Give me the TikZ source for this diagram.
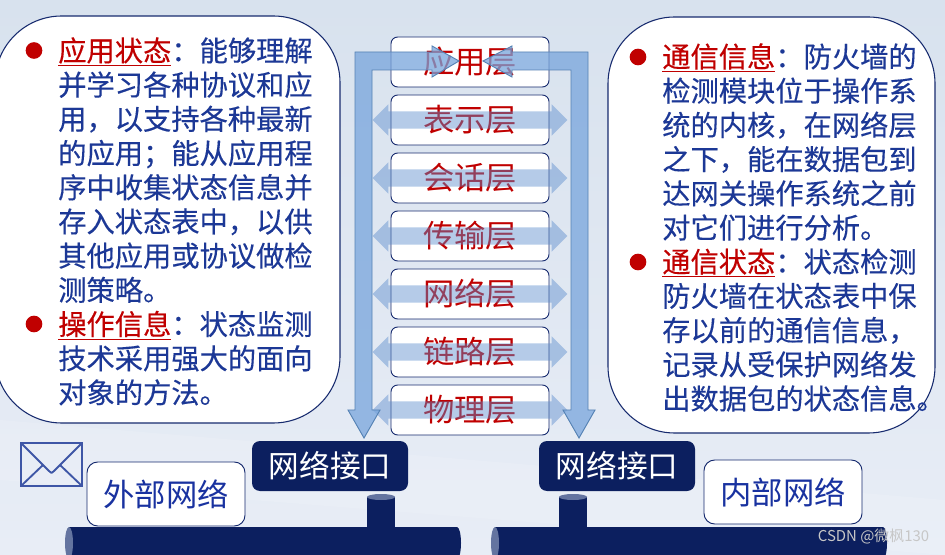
\documentclass[tikz,border=0pt]{standalone}
\usepackage{fontspec}
\setmainfont{Noto Sans CJK SC}
\newfontfamily\heavycjk[FakeBold=0.25]{Noto Sans CJK SC}
\usetikzlibrary{shapes.arrows}
\definecolor{textblue}{RGB}{28,56,150}
\definecolor{headred}{RGB}{192,0,0}
\definecolor{navy}{RGB}{12,31,95}
\definecolor{edgeblue}{RGB}{22,42,110}
\definecolor{pipeend}{RGB}{100,116,160}
\definecolor{bandblue}{RGB}{91,140,205}
\definecolor{columnblue}{RGB}{120,165,220}
\definecolor{columnedge}{RGB}{85,130,180}
\definecolor{skytop}{RGB}{216,226,238}
\definecolor{skybottom}{RGB}{232,237,246}
\newcommand{\headword}[1]{{\color{headred}\underline{#1}}}
\tikzset{
  bubble/.style={draw=edgeblue, fill=white, line width=0.8pt, rounded corners=50pt, inner sep=0pt},
  bubbletext/.style={anchor=north west, inner sep=0pt, align=left, text=textblue, font=\heavycjk\fontsize{21.2}{25.65}\selectfont},
  bulletdot/.style={circle, fill=headred, inner sep=0pt, minimum size=12.5pt},
  layerbox/.style={draw=edgeblue, fill=white, line width=0.7pt, rounded corners=5pt, minimum width=118.5pt, minimum height=37.5pt, inner sep=0pt, text=headred, font=\fontsize{23.5}{28}\selectfont},
  swaparrow/.style={double arrow, fill=bandblue, fill opacity=0.45, minimum width=23pt, minimum height=146pt, double arrow head extend=5.25pt, inner sep=6.25pt, double arrow tip angle=90},
  bigarrow/.style={draw=columnedge, fill=columnblue, fill opacity=0.75, line width=0.7pt},
  portbox/.style={fill=navy, rounded corners=6pt, minimum width=117pt, minimum height=37.5pt, inner sep=0pt, text=white, font=\fontsize{23}{28}\selectfont},
  netbox/.style={draw=edgeblue, fill=white, line width=0.7pt, rounded corners=8pt, minimum width=118.5pt, minimum height=48pt, inner sep=0pt, text=textblue!90!blue, font=\fontsize{23.5}{28}\selectfont},
  pipe/.style={fill=navy},
  pipeface/.style={fill=pipeend}
}
\begin{document}
\begin{tikzpicture}[x=0.75pt, y=-0.75pt]
\useasboundingbox (0,0) rectangle (945,555);
\clip (0,0) rectangle (945,555);
\shade[top color=skytop, bottom color=skybottom] (0,0) rectangle (945,555);
\fill[white, opacity=0.12] (0,420) -- (945,500) -- (945,555) -- (0,480) -- cycle;
\node[bubble, minimum width=258.75pt, minimum height=305.25pt] (leftbubble) at (167.5,219.5) {};
\node[bubble, minimum width=245.25pt, minimum height=312pt] (rightbubble) at (771.5,225) {};
\node[bulletdot] (leftdota) at (34,50.5) {};
\node[bulletdot] (leftdotb) at (34,324) {};
\node[bulletdot] (rightdota) at (638,57) {};
\node[bulletdot] (rightdotb) at (638,262) {};
\node[bubbletext] (lefttext) at (58,37) {\headword{应用状态}：能够理解\\并学习各种协议和应\\用，以支持各种最新\\的应用；能从应用程\\序中收集状态信息并\\存入状态表中，以供\\其他应用或协议做检\\测策略。\\\headword{操作信息}：状态监测\\技术采用强大的面向\\对象的方法。};
\node[bubbletext] (righttext) at (662,43) {\headword{通信信息}：防火墙的\\检测模块位于操作系\\统的内核，在网络层\\之下，能在数据包到\\达网关操作系统之前\\对它们进行分析。\\\headword{通信状态}：状态检测\\防火墙在状态表中保\\存以前的通信信息，\\记录从受保护网络发\\出数据包的状态信息。};
\node[layerbox] (app) at (470,62) {应用层};
\node[layerbox] (pres) at (470,120) {表示层};
\node[layerbox] (sess) at (470,178) {会话层};
\node[layerbox] (trans) at (470,236) {传输层};
\node[layerbox] (net) at (470,294) {网络层};
\node[layerbox] (link) at (470,352) {链路层};
\node[layerbox] (phys) at (470,410) {物理层};
\node[swaparrow] (presarrow) at (pres) {};
\node[swaparrow] (sessarrow) at (sess) {};
\node[swaparrow] (transarrow) at (trans) {};
\node[swaparrow] (netarrow) at (net) {};
\node[swaparrow] (linkarrow) at (link) {};
\node[swaparrow] (physarrow) at (phys) {};
\draw[bigarrow] (459,61) -- (432,46) -- (432,52) -- (355,52) -- (355,410) -- (348,410) -- (364,438) -- (380,410) -- (372,410) -- (372,70) -- (432,70) -- (432,77) -- cycle;
\draw[bigarrow] (483,61) -- (512,46) -- (512,52) -- (588,52) -- (588,410) -- (595,410) -- (579,438) -- (563,410) -- (571,410) -- (571,70) -- (512,70) -- (512,77) -- cycle;
\fill[pipe] (69,527) rectangle (457,559);
\fill[pipe] (457,543) ellipse[x radius=4, y radius=16];
\fill[pipeface] (69,543) ellipse[x radius=4, y radius=16];
\fill[pipe] (367,497) rectangle (395,527);
\fill[pipeface] (381,497) ellipse[x radius=14, y radius=3];
\fill[pipe] (495,527) rectangle (883,559);
\fill[pipe] (883,543) ellipse[x radius=4, y radius=16];
\fill[pipeface] (495,543) ellipse[x radius=4, y radius=16];
\fill[pipe] (559,497) rectangle (587,527);
\fill[pipeface] (573,497) ellipse[x radius=14, y radius=3];
\node[portbox] (leftport) at (330,466) {网络接口};
\node[portbox] (rightport) at (617,466) {网络接口};
\node[netbox] (outernet) at (166,494) {外部网络};
\node[netbox] (innernet) at (783,492) {内部网络};
\draw[draw=textblue!85!white, line width=1.9pt] (21,443) rectangle (82,486);
\draw[draw=textblue!85!white, line width=1.4pt, line join=round] (21,443) -- (49,471) -- (51.5,473) -- (54,471) -- (82,443);
\draw[draw=textblue!85!white, line width=1.4pt] (21,486) -- (43,465);
\draw[draw=textblue!85!white, line width=1.4pt] (82,486) -- (60,465);
\node[inner sep=0pt, text=black!22, font=\fontsize{11.2}{12}\selectfont] (mark) at (873.5,537) {CSDN @微枫130};
\end{tikzpicture}
\end{document}
